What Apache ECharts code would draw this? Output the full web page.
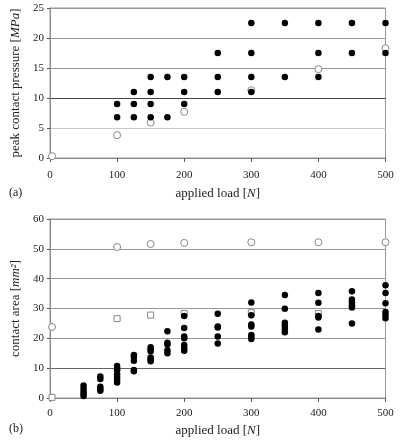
<!DOCTYPE html>
<html>
<head>
<meta charset="utf-8">
<script src="https://cdn.jsdelivr.net/npm/echarts@6/dist/echarts.min.js"></script>
<style>
  html, body { margin: 0; padding: 0; background: #fff; }
  #main { width: 400px; height: 441px; }
</style>
</head>
<body>
<div id="main"></div>
<script>
// (a) peak contact pressure, measured
var loadsA = [100, 125, 150, 175, 200, 250, 300, 350, 400, 450, 500];
var pressureA = [
  [9, 6.8],
  [11, 9, 6.8],
  [13.5, 11, 9, 6.8],
  [13.5, 6.8],
  [13.5, 11, 9],
  [17.5, 13.5, 11],
  [22.5, 17.5, 13.5, 11],
  [22.5, 13.5],
  [22.5, 17.5, 13.5],
  [22.5, 17.5],
  [22.5, 17.5]
];
// (a) open circles
var loadsCircA = [3, 100, 150, 200, 300, 400, 500];
var pressureCircA = [0.3, 3.8, 5.9, 7.7, 11.3, 14.8, 18.3];

// (b) contact area, measured
var loadsB = [50, 75, 100, 125, 150, 175, 200, 250, 300, 350, 400, 450, 500];
var areaB = [
  [4.2, 3.2, 2.2, 1.3, 0.7],
  [7.2, 6.4, 3.8, 3, 2.4],
  [10.7, 10, 9.3, 8, 7, 6.2, 5.2],
  [14.4, 13.8, 12.5, 9.4, 9],
  [17, 16.3, 15.7, 13.6, 12.9, 12.3],
  [22.4, 18.5, 17.9, 16, 15],
  [27.5, 23.5, 20.6, 20, 17.8, 16.7, 15.8],
  [28.2, 24, 23.6, 20.6, 18.3],
  [32, 27.7, 24.6, 24, 21.1, 20.5, 19.8],
  [34.5, 29.9, 25.2, 24.2, 23.1, 22],
  [35.2, 31.9, 27.5, 27, 23],
  [35.8, 33, 32, 31.1, 30.3, 25],
  [37.8, 35.2, 31.8, 28.8, 27.8, 26.7]
];
// (b) open circles and squares
var loadsCircB = [3, 100, 150, 200, 300, 400, 500];
var areaCircB = [23.8, 50.6, 51.6, 52, 52.2, 52.2, 52.2];
var loadsSqB = [3, 100, 150, 200, 300, 400];
var areaSqB = [0.2, 26.6, 27.8, 28.3, 28.6, 28.3];

var xTicks = [0, 100, 200, 300, 400, 500];

function groups(xs, ys) {
  var out = [];
  xs.forEach(function (x, i) {
    ys[i].forEach(function (y) { out.push([x, y]); });
  });
  return out;
}
function pairs(xs, ys) {
  return xs.map(function (x, i) { return [x, ys[i]]; });
}

var font = 'Liberation Serif';
var txt = '#222';

function xAxis(idx, gap, margin) {
  return {
    type: 'value', gridIndex: idx,
    min: xTicks[0], max: xTicks[xTicks.length - 1], interval: 100,
    name: '{a|applied load [}{i|N}{a|]}',
    nameLocation: 'middle', nameGap: gap,
    nameTextStyle: {
      rich: {
        a: { fontFamily: font, fontSize: 13, color: txt },
        i: { fontFamily: font, fontSize: 13, color: txt, fontStyle: 'italic' }
      }
    },
    axisLine: { lineStyle: { color: '#888', width: 1 } },
    axisTick: { length: 4, lineStyle: { color: '#555' } },
    axisLabel: { fontFamily: font, fontSize: 11, color: txt, margin: margin },
    splitLine: { show: false }
  };
}

function filled(name, xi, data) {
  return {
    name: name, type: 'scatter', xAxisIndex: xi, yAxisIndex: xi,
    symbol: 'circle', symbolSize: 6.5, data: data, z: 5,
    itemStyle: { color: '#000', opacity: 1 }
  };
}
function open(name, xi, data, sym) {
  return {
    name: name, type: 'scatter', xAxisIndex: xi, yAxisIndex: xi,
    symbol: sym, symbolSize: sym === 'rect' ? 6 : 7, data: data, z: 4,
    itemStyle: { color: '#fff', borderColor: '#888', borderWidth: 1, opacity: 1 }
  };
}

var myChart = echarts.init(document.getElementById('main'));
myChart.setOption({
  animation: false,
  backgroundColor: '#fff',
  grid: [
    { left: 50, right: 14.5, top: 8, height: 150, show: true, borderColor: '#999', borderWidth: 1 },
    { left: 50, right: 14.5, top: 219, bottom: 43, show: true, borderColor: '#999', borderWidth: 1 }
  ],
  xAxis: [xAxis(0, 29, 12), xAxis(1, 26, 10)],
  yAxis: [
    {
      type: 'value', gridIndex: 0, min: 0, max: 25, interval: 5,
      name: '{a|peak contact pressure [}{i|MPa}{a|]}',
      nameLocation: 'middle', nameGap: 24,
      nameTextStyle: {
        rich: {
          a: { fontFamily: font, fontSize: 13, color: txt },
          i: { fontFamily: font, fontSize: 13, color: txt, fontStyle: 'italic' }
        }
      },
      axisLine: { show: true, lineStyle: { color: '#888' } },
      axisTick: { show: true, length: 3, lineStyle: { color: '#555' } },
      axisLabel: { fontFamily: font, fontSize: 11, color: txt, margin: 6 },
      splitLine: { lineStyle: { color: ['#888', '#c8c8c8', '#444', '#999', '#999', '#999'] } }
    },
    {
      type: 'value', gridIndex: 1, min: 0, max: 60, interval: 10,
      name: '{a|contact area [}{i|mm²}{a|]}',
      nameLocation: 'middle', nameGap: 24,
      nameTextStyle: {
        rich: {
          a: { fontFamily: font, fontSize: 13, color: txt },
          i: { fontFamily: font, fontSize: 13, color: txt, fontStyle: 'italic' }
        }
      },
      axisLine: { show: true, lineStyle: { color: '#888' } },
      axisTick: { show: true, length: 3, lineStyle: { color: '#555' } },
      axisLabel: { fontFamily: font, fontSize: 11, color: txt, margin: 6 },
      splitLine: { lineStyle: { color: ['#888', '#666', '#999', '#999', '#999', '#999', '#999'] } }
    }
  ],
  graphic: [
    { type: 'text', left: 9, top: 187, style: { text: '(a)', font: '12px "Liberation Serif"', fill: txt } },
    { type: 'text', left: 9, top: 423, style: { text: '(b)', font: '12px "Liberation Serif"', fill: txt } }
  ],
  series: [
    open('model a', 0, pairs(loadsCircA, pressureCircA), 'circle'),
    filled('measured a', 0, groups(loadsA, pressureA)),
    open('model b circle', 1, pairs(loadsCircB, areaCircB), 'circle'),
    open('model b square', 1, pairs(loadsSqB, areaSqB), 'rect'),
    filled('measured b', 1, groups(loadsB, areaB))
  ]
});
</script>
</body>
</html>
